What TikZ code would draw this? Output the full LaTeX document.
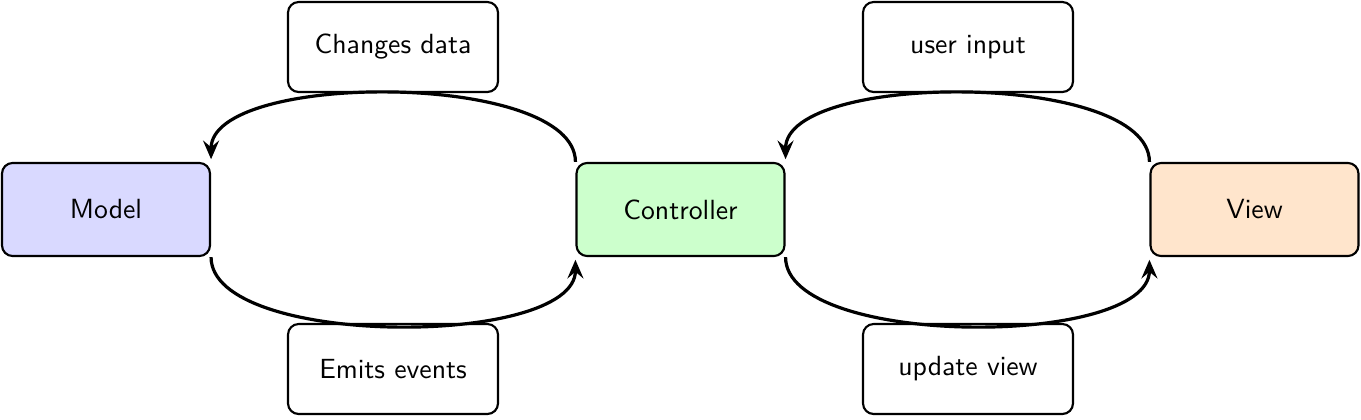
\documentclass[tikz,border=0pt]{standalone}
\usetikzlibrary{arrows.meta}
\begin{document}
\begin{tikzpicture}[x=0.375pt,y=-0.375pt,
  font=\sffamily\fontsize{10.4}{12.5}\selectfont,
  mainbox/.style={draw=black, thick, rounded corners=4pt, minimum width=78pt, minimum height=34.9pt, inner sep=0pt},
  labelbox/.style={draw=black, thick, fill=white, rounded corners=4pt, minimum width=78.75pt, minimum height=33.75pt, inner sep=0pt},
  conn/.style={draw=black, very thick, -{Stealth[length=7pt,width=6pt,inset=2.5pt]}, shorten >=1pt}]
\useasboundingbox (0,0) rectangle (1361,419);
\node[mainbox, fill=blue!15] (M) at (106,209.5) {Model};
\node[mainbox, fill=green!20] (C) at (680.5,209.5) {Controller};
\node[mainbox, fill=orange!20] (V) at (1254.5,209.5) {View};
\node[labelbox] (L1) at (393,47) {Changes data};
\node[labelbox] (L2) at (393,369) {Emits events};
\node[labelbox] (L3) at (968,47) {user input};
\node[labelbox] (L4) at (968,369) {update view};
\draw[conn] (C.north west) .. controls +(0,-91) and +(0,-91) .. (M.north east);
\draw[conn] (M.south east) .. controls +(0,91) and +(0,91) .. (C.south west);
\draw[conn] (V.north west) .. controls +(0,-91) and +(0,-91) .. (C.north east);
\draw[conn] (C.south east) .. controls +(0,91) and +(0,91) .. (V.south west);
\end{tikzpicture}
\end{document}
